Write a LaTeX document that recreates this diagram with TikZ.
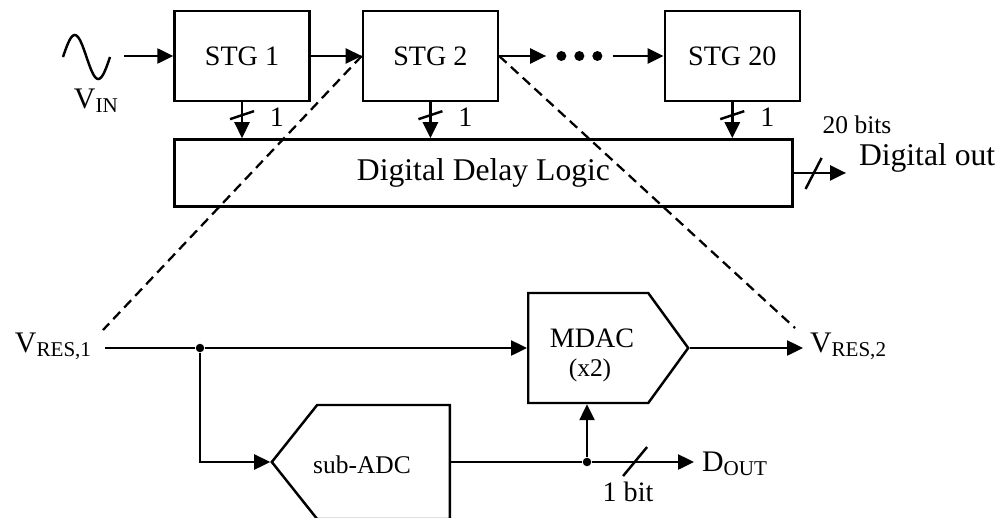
\documentclass[tikz,border=0pt]{standalone}
\usepackage{fontspec}
\setmainfont{Liberation Serif}
\usepackage{tikz}
\usetikzlibrary{arrows.meta, positioning, shapes.symbols}

\newcommand{\lowidx}[1]{\raisebox{-2.8pt}{\fontsize{12}{14}\selectfont #1}}

\begin{document}
\begin{tikzpicture}[
    x=0.02cm, y=-0.02cm,
    line width=1.4pt,
    stgbox/.style={rectangle, draw, minimum width=2.7cm, minimum height=1.8cm,
                   font=\fontsize{16}{19}\selectfont},
    logicbox/.style={rectangle, draw, minimum width=12.36cm, minimum height=1.34cm,
                   font=\fontsize{18}{21}\selectfont},
    blockshape/.style={draw, signal, signal from=nowhere, inner sep=0pt},
    arrow/.style={-{Triangle[length=0.32cm, width=0.3cm]}},
    dashline/.style={line width=1.3pt, dash pattern=on 0.2cm off 0.12cm},
    txt/.style={font=\fontsize{16}{19}\selectfont, inner sep=1pt},
    bigtxt/.style={font=\fontsize{18}{21}\selectfont, inner sep=1pt},
    smalltxt/.style={font=\fontsize{14.5}{17}\selectfont, inner sep=1pt},
    sigtxt/.style={font=\fontsize{17}{20}\selectfont, inner sep=1pt},
    dot/.style={circle, fill, inner sep=0pt, minimum size=0.17cm}
]
\useasboundingbox (0,0) rectangle (999,517);

% pipeline stages
\node[stgbox] (stg1) at (242,56) {STG 1};
\node[stgbox, right=1.02cm of stg1] (stg2) {STG 2};
\node[inner sep=0pt, minimum width=1.28cm, minimum height=0.3cm, right=0.94cm of stg2] (dots) {};
\foreach \i in {-1,0,1}
  \fill ([shift={({\i*18},0)}]dots.center) circle (0.1cm);
\node[stgbox, right=1.02cm of dots] (stg20) {STG 20};
\node[logicbox, below=0.72cm of stg1.south west, anchor=north west] (logic) {Digital Delay Logic};

% input
\draw plot[smooth, domain=0:360, samples=37] ({63+0.1306*\x},{57-22*sin(\x)});
\coordinate (src) at (124,56);
\node[sigtxt, anchor=base west] (vin) at (71,108) {V\lowidx{IN}};
\draw[arrow] (src) -- (stg1);
\draw[arrow] (stg1) -- (stg2);
\draw[arrow] (stg2) -- (dots);
\draw[arrow] (dots) -- (stg20);

% 1-bit buses into the logic
\foreach \s in {stg1,stg2,stg20} {
  \draw[arrow] (\s.south) -- coordinate[pos=0.36] (\s-cut) (\s.south |- logic.north);
  \draw ([shift={(-12,4)}]\s-cut) -- ([shift={(12,-4)}]\s-cut);
  \node[txt, anchor=base west] (\s-one) at ([shift={(25,11)}]\s-cut) {1};
}

% digital output
\node[bigtxt, anchor=base west] (dout) at (856,165) {Digital out};
\node[smalltxt, anchor=base] (nbits) at (857,133) {20 bits};
\draw[arrow, shorten >=0.2cm] (logic.east) -- coordinate[pos=0.32] (outcut) (logic.east -| dout.west);
\draw ([shift={(-8,16)}]outcut) -- ([shift={(8,-15)}]outcut);

% stage detail
\node[blockshape, signal to=east, signal pointer angle=108, minimum width=3.2cm,
      minimum height=2.2cm, anchor=west] (mdac) at (527,348) {};
\node[txt, anchor=base] (mdaclbl) at (592,347) {MDAC};
\node[smalltxt, anchor=base] (gainlbl) at (590,376) {(x2)};
\node[blockshape, signal to=west, signal pointer angle=103, minimum width=3.56cm,
      minimum height=2.28cm, anchor=east] (adc) at (451,462) {};
\node[smalltxt, anchor=base] (adclbl) at (362,473) {sub-ADC};

\node[sigtxt, anchor=base west] (vres1) at (12,352) {V\lowidx{RES,1}};
\node[sigtxt, anchor=base west] (vres2) at (807,352) {V\lowidx{RES,2}};
\node[sigtxt, anchor=base west] (dres) at (699,471) {D\lowidx{OUT}};
\node[txt, anchor=base] (onebit) at (628,501) {1 bit};
\node[dot] (j1) at (200,348) {};
\node[dot] (j2) at (587,462) {};

\draw[shorten <=0.22cm] (vres1.east |- j1) -- (j1);
\draw[arrow] (j1) -- (j1 -| mdac.west);
\draw[arrow] (j1) |- (adc.west);
\draw[arrow, shorten >=0.08cm] (mdac.east) -- (mdac.east -| vres2.west);
\draw (adc.east) -- (j2);
\draw[arrow, shorten >=0.1cm] (j2) -- coordinate[pos=0.4] (bitcut) (j2 -| dres.west);
\draw ([shift={(-12,14)}]bitcut) -- ([shift={(12,-15)}]bitcut);
\draw[arrow] (j2) -- (j2 |- mdac.south);

% zoom lines
\coordinate (zl) at (103,330);
\coordinate (zr) at (795,328);
\draw[dashline] (stg2.west) -- (zl);
\draw[dashline] (stg2.east) -- (zr);
\end{tikzpicture}
\end{document}
